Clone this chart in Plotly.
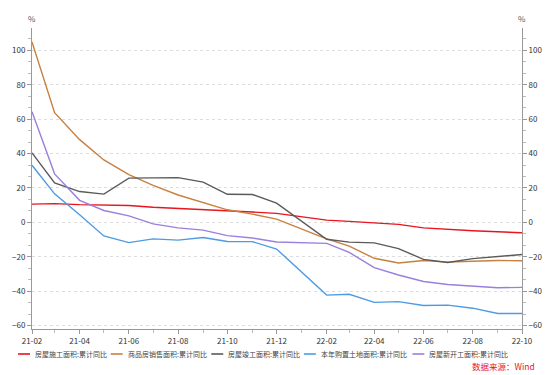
import plotly.graph_objects as go

# ---------------- data ----------------
months = ["2021-02", "2021-03", "2021-04", "2021-05", "2021-06", "2021-07", "2021-08",
          "2021-09", "2021-10", "2021-11", "2021-12",
          "2022-02", "2022-03", "2022-04", "2022-05", "2022-06", "2022-07", "2022-08",
          "2022-09", "2022-10"]

construction = [10.6, 10.9, 10.3, 9.9, 9.8, 8.8, 8.2, 7.6, 6.9, 6.0, 5.2,
                1.3, 0.6, -0.5, -1.2, -3.2, -4.1, -4.9, -5.5, -6.0]          # 房屋施工面积
sales = [104.9, 63.8, 48.1, 36.3, 27.7, 21.5, 15.9, 11.3, 7.3, 4.8, 1.9,
         -9.6, -13.8, -20.9, -23.6, -22.2, -23.1, -22.6, -22.2, -22.3]     # 商品房销售面积
completed = [40.4, 22.9, 17.9, 16.4, 25.7, 25.7, 26.0, 23.4, 16.3, 16.2, 11.2,
             -9.8, -11.5, -11.9, -15.3, -21.5, -23.3, -21.1, -19.9, -18.7]  # 房屋竣工面积
land = [33.2, 16.6, 4.4, -7.9, -11.8, -9.6, -10.3, -8.8, -11.1, -11.2, -15.5,
        -42.3, -41.8, -46.5, -46.1, -48.3, -48.1, -49.9, -53.0, -53.0]      # 本年购置土地面积
new_start = [64.3, 28.2, 12.8, 6.9, 3.8, -0.9, -3.2, -4.5, -7.7, -9.1, -11.4,
             -12.2, -17.5, -26.3, -30.6, -34.4, -36.1, -37.2, -38.0, -37.8]  # 房屋新开工面积

names = ["房屋施工面积:累计同比", "商品房销售面积:累计同比", "房屋竣工面积:累计同比",
         "本年购置土地面积:累计同比", "房屋新开工面积:累计同比"]
series = [construction, sales, completed, land, new_start]
colors = ["#E8141E", "#C8803F", "#5A5A5A", "#4C9BE3", "#9A7FDD"]

y_range = [-62, 113]
source_text = "数据来源：Wind"

# ---------------- figure ----------------
W, H = 554, 375
ML, MR, MT, MB = 31, 31, 28, 46
FONT = "Microsoft YaHei, Noto Sans CJK SC, sans-serif"


def px_x(px):
    return (px - ML) / (W - ML - MR)


def px_y(py):
    return (H - MB - py) / (H - MT - MB)


fig = go.Figure()
for name, vals, col in zip(names, series, colors):
    fig.add_trace(go.Scatter(x=months, y=vals, mode="lines", name=name,
                             line=dict(color=col, width=1.4), showlegend=False))
# invisible trace so the right axis is drawn
fig.add_trace(go.Scatter(x=months, y=construction, yaxis="y2", mode="lines",
                         line=dict(width=0), opacity=0, hoverinfo="skip", showlegend=False))

axis_common = dict(
    range=y_range, dtick=20, tick0=0, ticks="outside", ticklen=4, tickcolor="#999",
    showline=True, linecolor="#999", linewidth=1,
    tickfont=dict(size=8, color="#333", family=FONT), zeroline=False,
    minor=dict(dtick=20 / 3, tick0=0, ticks="outside", ticklen=3, tickcolor="#bbb", showgrid=False),
)
fig.update_layout(
    width=W, height=H,
    margin=dict(l=ML, r=MR, t=MT, b=MB),
    paper_bgcolor="white", plot_bgcolor="white",
    font=dict(family=FONT, color="#333"),
    xaxis=dict(type="date", range=["2021-02-01", "2022-10-01"], dtick="M2",
               tick0="2021-02-01", tickformat="%y-%m", ticks="outside", ticklen=4,
               tickcolor="#999", showline=True, linecolor="#999", showgrid=False,
               tickfont=dict(size=8, color="#333", family=FONT),
               minor=dict(dtick="M1", ticks="outside", ticklen=3, tickcolor="#bbb")),
    yaxis=dict(**axis_common, side="left", showgrid=True, gridcolor="#dddddd",
               griddash="dot", gridwidth=1),
    yaxis2=dict(**axis_common, side="right", overlaying="y", showgrid=False),
    showlegend=False,
)

annotations = [
    dict(text="%", x=0, y=px_y(18), xref="paper", yref="paper", showarrow=False,
         font=dict(size=8, color="#555"), xanchor="center", yanchor="middle"),
    dict(text="%", x=1, y=px_y(18), xref="paper", yref="paper", showarrow=False,
         font=dict(size=8, color="#555"), xanchor="center", yanchor="middle"),
    dict(text=source_text, x=px_x(538), y=px_y(366), xref="paper", yref="paper",
         showarrow=False, font=dict(size=8.5, color="#E8141E"), xanchor="right",
         yanchor="middle"),
]
shapes = []
legend_starts = [17, 110, 211, 304, 413]
ly = px_y(354)
for s, name, col in zip(legend_starts, names, colors):
    shapes.append(dict(type="line", xref="paper", yref="paper", x0=px_x(s), x1=px_x(s + 12),
                       y0=ly, y1=ly, line=dict(color=col, width=1.6)))
    annotations.append(dict(text=name, x=px_x(s + 15), y=ly, xref="paper", yref="paper",
                            showarrow=False, xanchor="left", yanchor="middle",
                            font=dict(size=7, color="#444")))
fig.update_layout(annotations=annotations, shapes=shapes)

fig.write_html("out.html", config={"displayModeBar": False},
               post_script="document.body.style.margin='0';document.body.style.padding='0';")
